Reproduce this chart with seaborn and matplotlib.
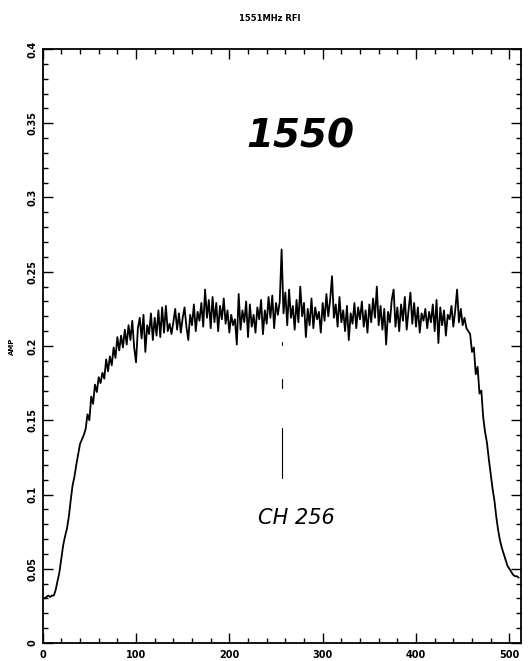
import numpy as np
import pandas as pd
import matplotlib
matplotlib.use("Agg")
import matplotlib.pyplot as plt
import seaborn as sns
from matplotlib.ticker import MultipleLocator

sns.set_theme(style="ticks")
plt.rcParams["font.family"] = ["DejaVu Sans"]
plt.rcParams["text.color"] = "black"
plt.rcParams["xtick.color"] = "black"
plt.rcParams["ytick.color"] = "black"
plt.rcParams["axes.labelcolor"] = "black"

title = "1551MHz RFI"
x_label = ""
y_label = "AMP"
note_top = "1550"
note_ch = "CH 256"
spike_channel = 256

channel_step = 2
amp_rise = [0.031, 0.030, 0.031, 0.032, 0.031, 0.032, 0.032, 0.036, 0.042, 0.048,
            0.057, 0.066, 0.072, 0.077, 0.085, 0.096, 0.106, 0.112, 0.120, 0.127,
            0.134, 0.137, 0.140, 0.144, 0.154, 0.150, 0.166, 0.161, 0.174, 0.169,
            0.179, 0.175, 0.182, 0.178, 0.191, 0.183, 0.193, 0.187, 0.199, 0.192,
            0.206, 0.197, 0.207, 0.199, 0.211, 0.201, 0.214, 0.204, 0.217, 0.199,
            0.189, 0.212, 0.219, 0.205, 0.221, 0.196, 0.214, 0.208, 0.222, 0.204,
            0.219, 0.207, 0.224, 0.206, 0.226, 0.209, 0.227, 0.210, 0.215, 0.208]
amp_plateau = [0.216, 0.225, 0.211, 0.222, 0.209, 0.219, 0.226, 0.213, 0.204, 0.221,
               0.214, 0.228, 0.210, 0.223, 0.217, 0.229, 0.213, 0.238, 0.219, 0.231,
               0.212, 0.233, 0.216, 0.229, 0.210, 0.227, 0.218, 0.232, 0.215, 0.224,
               0.209, 0.221, 0.214, 0.218, 0.201, 0.235, 0.211, 0.224, 0.216, 0.230,
               0.206, 0.228, 0.213, 0.221, 0.209, 0.226, 0.218, 0.231, 0.208, 0.224,
               0.215, 0.233, 0.219, 0.234, 0.212, 0.229, 0.221, 0.230, 0.265, 0.222,
               0.236, 0.214, 0.238, 0.219, 0.227, 0.211, 0.231, 0.216, 0.240, 0.220,
               0.229, 0.206, 0.225, 0.214, 0.232, 0.212, 0.226, 0.218, 0.223, 0.209,
               0.229, 0.217, 0.235, 0.220, 0.231, 0.247, 0.219, 0.228, 0.213, 0.233,
               0.216, 0.224, 0.210, 0.227, 0.204, 0.222, 0.215, 0.229, 0.212, 0.226,
               0.218, 0.230, 0.213, 0.224, 0.209, 0.228, 0.216, 0.232, 0.219, 0.240,
               0.214, 0.227, 0.211, 0.225, 0.201, 0.223, 0.216, 0.231, 0.238, 0.213,
               0.226, 0.210, 0.228, 0.217, 0.233, 0.211, 0.224, 0.236, 0.215, 0.229,
               0.213, 0.226, 0.209, 0.222, 0.217, 0.225, 0.212, 0.223, 0.216, 0.228,
               0.210, 0.231, 0.202, 0.226, 0.214, 0.224, 0.207, 0.221, 0.218, 0.227,
               0.213, 0.224, 0.238, 0.216, 0.225, 0.214, 0.219, 0.212]
amp_fall = [0.210, 0.208, 0.196, 0.199, 0.181, 0.186, 0.168, 0.170, 0.152, 0.142,
            0.135, 0.124, 0.114, 0.104, 0.096, 0.085, 0.076, 0.069, 0.064, 0.060,
            0.056, 0.052, 0.050, 0.048, 0.046, 0.045, 0.045, 0.044]

x_ticks = [0, 100, 200, 300, 400, 500]
y_ticks = [0, 0.05, 0.1, 0.15, 0.2, 0.25, 0.3, 0.35, 0.4]
y_tick_labels = ["0", "0.05", "0.1", "0.15", "0.2", "0.25", "0.3", "0.35", "0.4"]

amp = amp_rise + amp_plateau + amp_fall
channels = np.arange(len(amp)) * channel_step
df = pd.DataFrame({"channel": channels, "amp": amp})

fig = plt.figure(figsize=(5.29, 6.61), dpi=100)
ax = fig.add_axes([0.0807, 0.0272, 0.9033, 0.8987])
sns.lineplot(data=df, x="channel", y="amp", color="black", linewidth=1.3, ax=ax)

ax.set_xticks(x_ticks)
ax.set_xticklabels([str(v) for v in x_ticks], fontweight="bold")
ax.set_yticks(y_ticks)
ax.set_yticklabels(y_tick_labels, rotation=90, va="center", fontweight="bold")
ax.xaxis.set_minor_locator(MultipleLocator(20))
ax.yaxis.set_minor_locator(MultipleLocator(0.01))
ax.set_xlim(0, 512)
ax.set_ylim(0, 0.4)
ax.tick_params(which="both", direction="in", top=True, right=True, width=1.0)
ax.tick_params(which="major", length=7)
ax.tick_params(which="minor", length=3.5)
ax.tick_params(axis="x", labelsize=7, pad=5)
ax.tick_params(axis="y", labelsize=7, pad=4)
for s in ax.spines.values():
    s.set_color("black")
    s.set_linewidth(1.3)

ax.set_xlabel(x_label)
ax.set_ylabel(y_label, fontsize=5, fontweight="bold")
ax.yaxis.set_label_coords(-0.058, 0.5)
fig.text(0.51, 0.972, title, ha="center", va="center", fontsize=6, fontweight="bold")

ax.text(276, 0.341, note_top, ha="center", va="center", fontsize=28, style="italic",
        fontweight="bold")
ax.text(272, 0.084, note_ch, ha="center", va="center", fontsize=15, style="italic",
        fontweight="light")
ax.plot([spike_channel, spike_channel], [0.145, 0.111], color="black", linewidth=0.8)
ax.plot([spike_channel, spike_channel], [0.178, 0.172], color="black", linewidth=0.8)
ax.plot([spike_channel, spike_channel], [0.2025, 0.2005], color="black", linewidth=0.8)

fig.savefig("out.png", dpi=100)
